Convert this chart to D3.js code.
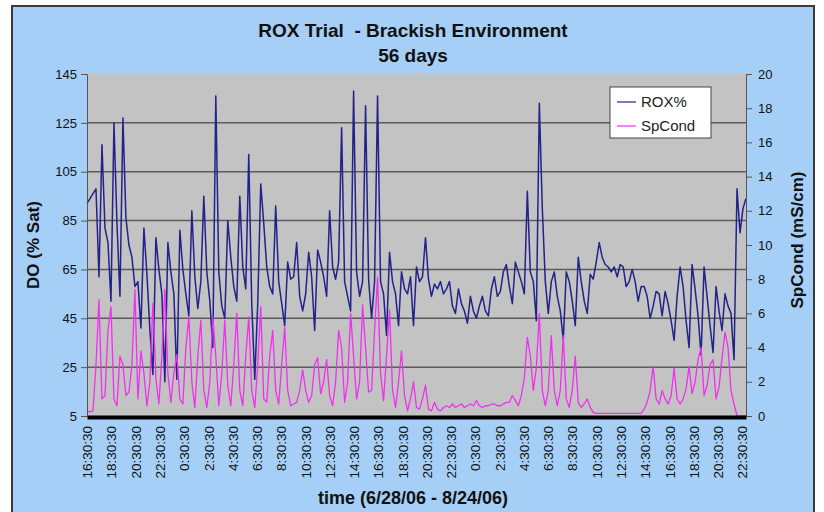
<!DOCTYPE html>
<html>
<head>
<meta charset="utf-8">
<script src="https://cdn.jsdelivr.net/npm/d3@7"></script>
<style>
    body { margin: 0; background: #fff; }
    svg text { font-family: "Liberation Sans", Arial, sans-serif; }
</style>
</head>
<body>
<div id="chart"></div>
<script>
// Readings taken at a fixed step across the 56 day record
var roxPct = [
    92,94,96,98,62,116,82,76,52,125,
    84,54,127,86,75,70,58,60,41,82,
    63,40,22,78,65,55,19,76,64,55,
    20,81,65,55,46,89,62,49,60,95,
    64,52,33,136,64,50,45,85,70,58,
    52,95,66,57,112,51,20,51,100,84,
    66,58,55,91,60,51,42,68,61,62,
    76,54,48,55,72,62,40,73,68,62,
    54,89,66,61,68,123,60,54,48,138,
    64,54,60,132,61,45,60,136,60,55,
    38,72,60,55,42,64,57,55,62,42,
    66,60,62,78,61,54,59,57,60,55,
    57,60,50,47,57,51,48,43,54,48,
    45,50,54,48,46,57,62,54,56,64,
    67,58,51,68,64,60,55,97,64,60,
    44,133,90,60,47,60,64,54,48,36,
    64,60,52,42,70,60,52,47,63,61,
    68,76,70,67,66,64,66,62,67,66,
    58,60,65,60,52,58,58,54,45,50,
    56,55,46,56,51,44,36,54,66,58,
    44,33,67,57,46,30,66,54,42,31,
    58,48,40,55,50,47,28,98,80,90,
    94
];
var spCond = [
    0.25,0.25,0.3,3.0,6.8,1.0,1.2,5.0,6.4,1.0,
    0.6,3.5,3.0,1.2,1.4,3.0,7.4,1.0,3.8,2.5,
    0.6,2.0,6.6,2.2,0.7,3.5,7.4,2.5,0.8,2.5,
    3.6,1.0,0.7,4.0,5.8,2.0,0.5,3.5,5.6,1.5,
    0.5,2.0,5.8,3.5,0.6,2.5,5.6,1.8,0.6,3.0,
    6.0,1.5,0.6,3.5,5.8,1.5,0.5,3.0,6.4,1.0,
    0.8,3.5,5.0,1.5,0.7,3.0,5.2,1.5,0.6,0.7,
    0.8,1.5,2.7,1.5,0.8,1.2,3.0,3.4,1.3,2.0,
    3.3,1.2,0.6,2.0,5.0,4.0,0.8,2.0,6.0,3.5,
    1.0,2.0,6.5,4.0,1.4,1.5,5.0,8.1,2.5,0.9,
    3.5,6.2,1.5,0.5,2.0,3.8,1.2,0.3,1.0,2.0,
    0.5,0.4,1.0,1.8,0.4,0.3,0.8,0.4,0.3,0.5,
    0.6,0.5,0.7,0.5,0.6,0.7,0.5,0.6,0.7,0.6,
    0.9,0.6,0.5,0.6,0.6,0.7,0.7,0.6,0.6,0.7,
    0.8,0.8,1.2,0.9,0.6,1.2,2.2,4.6,3.5,1.5,
    2.8,6.0,1.5,0.6,1.5,4.7,1.5,0.6,1.5,4.7,
    1.0,0.5,1.5,3.5,0.8,0.5,0.7,1.0,0.5,0.2,
    0.15,0.15,0.15,0.15,0.15,0.15,0.15,0.15,0.15,0.15,
    0.15,0.15,0.15,0.15,0.15,0.15,0.4,0.8,1.5,2.9,
    1.0,0.7,1.5,1.0,0.7,1.2,2.8,1.0,0.7,1.0,
    1.6,2.9,1.3,2.0,3.3,4.0,1.2,1.8,3.0,3.3,
    1.0,1.7,3.4,4.9,4.0,1.5,0.7,0,0,0,
    0
];
var timeLabels = [
    "16:30:30","18:30:30","20:30:30","22:30:30","0:30:30","2:30:30","4:30:30",
    "6:30:30","8:30:30","10:30:30","12:30:30","14:30:30","16:30:30","18:30:30",
    "20:30:30","22:30:30","0:30:30","2:30:30","4:30:30","6:30:30","8:30:30",
    "10:30:30","12:30:30","14:30:30","16:30:30","18:30:30","20:30:30","22:30:30"
];
var doTicks = [5, 25, 45, 65, 85, 105, 125, 145];
var condTicks = [0, 2, 4, 6, 8, 10, 12, 14, 16, 18, 20];
var seriesNames = ["ROX%", "SpCond"];
var seriesColors = ["#22228a", "#f030f0"];

var width = 824, height = 512;
var plot = { left: 87, right: 746, top: 74, bottom: 416 };
var labelStep = 8.1;   // samples between two category labels

var svg = d3.select("#chart").append("svg")
    .attr("width", width).attr("height", height);

// Chart area with its frame
svg.append("rect").attr("x", 12).attr("y", 6).attr("width", 802).attr("height", 520)
    .attr("fill", "#a5cff6").attr("stroke", "#3a3a3a").attr("stroke-width", 2);

var x = d3.scaleLinear().domain([0, roxPct.length - 1]).range([plot.left, plot.right]);
var yDO = d3.scaleLinear().domain([5, 145]).range([plot.bottom, plot.top]);
var yCond = d3.scaleLinear().domain([0, 20]).range([plot.bottom, plot.top]);

// Plot area
svg.append("rect").attr("x", plot.left).attr("y", plot.top)
    .attr("width", plot.right - plot.left).attr("height", plot.bottom - plot.top)
    .attr("fill", "#c3c3c3");

// Gridlines
svg.append("g").selectAll("line").data(doTicks.slice(1, -1)).join("line")
    .attr("x1", plot.left).attr("x2", plot.right)
    .attr("y1", function(d) { return yDO(d); }).attr("y2", function(d) { return yDO(d); })
    .attr("stroke", "#5c5c5c").attr("stroke-width", 1.5);

// Series
var line = function(values, yScale) {
    return d3.line().x(function(d, i) { return x(i); }).y(function(d) { return yScale(d); })(values);
};
svg.append("path").attr("d", line(roxPct, yDO))
    .attr("fill", "none").attr("stroke", seriesColors[0]).attr("stroke-width", 1.5)
    .attr("stroke-linejoin", "round");
svg.append("path").attr("d", line(spCond, yCond))
    .attr("fill", "none").attr("stroke", seriesColors[1]).attr("stroke-width", 1.3)
    .attr("stroke-linejoin", "round");

// Left axis
var leftAxis = svg.append("g").attr("transform", "translate(" + plot.left + ",0)")
    .call(d3.axisLeft(yDO).tickValues(doTicks).tickSize(6).tickPadding(4));
leftAxis.selectAll("text").attr("font-size", 13).attr("fill", "#111");
leftAxis.selectAll("line, path").attr("stroke", "#555");

// Right axis
var rightAxis = svg.append("g").attr("transform", "translate(" + plot.right + ",0)")
    .call(d3.axisRight(yCond).tickValues(condTicks).tickSize(6).tickPadding(6));
rightAxis.selectAll("text").attr("font-size", 13).attr("fill", "#111");
rightAxis.selectAll("line, path").attr("stroke", "#555");

// Bottom axis: thick black line with rotated category labels
var bottomAxis = svg.append("g").attr("transform", "translate(0," + plot.bottom + ")")
    .call(d3.axisBottom(x)
        .tickValues(d3.range(timeLabels.length).map(function(k) { return k * labelStep; }))
        .tickFormat(function(d, k) { return timeLabels[k]; })
        .tickSize(0).tickSizeOuter(0));
bottomAxis.select(".domain").attr("stroke", "#000").attr("stroke-width", 4)
    .attr("transform", "translate(0,1)");
bottomAxis.selectAll("text")
    .attr("font-size", 13.5).attr("fill", "#111")
    .attr("text-anchor", "end")
    .attr("transform", "rotate(-90)")
    .attr("x", -10).attr("y", 0).attr("dy", "0.35em");

// Titles
svg.append("text").attr("x", 413).attr("y", 37).attr("text-anchor", "middle")
    .attr("font-size", 19).attr("font-weight", "bold").attr("fill", "#111")
    .attr("xml:space", "preserve").text("ROX Trial  - Brackish Environment");
svg.append("text").attr("x", 413).attr("y", 62).attr("text-anchor", "middle")
    .attr("font-size", 19).attr("font-weight", "bold").attr("fill", "#111").text("56 days");
svg.append("text").attr("transform", "translate(39,245) rotate(-90)").attr("text-anchor", "middle")
    .attr("font-size", 17).attr("font-weight", "bold").attr("fill", "#111").text("DO (% Sat)");
svg.append("text").attr("transform", "translate(803,240) rotate(-90)").attr("text-anchor", "middle")
    .attr("font-size", 17).attr("font-weight", "bold").attr("fill", "#111").text("SpCond (mS/cm)");
svg.append("text").attr("x", 413).attr("y", 504).attr("text-anchor", "middle")
    .attr("font-size", 18).attr("font-weight", "bold").attr("fill", "#111")
    .text("time (6/28/06 - 8/24/06)");

// Legend
var legend = svg.append("g").attr("transform", "translate(610,87)");
legend.append("rect").attr("width", 101).attr("height", 51)
    .attr("fill", "#fff").attr("stroke", "#444").attr("stroke-width", 1);
seriesNames.forEach(function(name, i) {
    var ly = 15 + i * 24;
    legend.append("line").attr("x1", 7).attr("x2", 26).attr("y1", ly).attr("y2", ly)
        .attr("stroke", seriesColors[i]).attr("stroke-width", 1.2);
    legend.append("text").attr("x", 31).attr("y", ly).attr("dy", "0.35em")
        .attr("font-size", 15).attr("fill", "#222").text(name);
});
</script>
</body>
</html>
